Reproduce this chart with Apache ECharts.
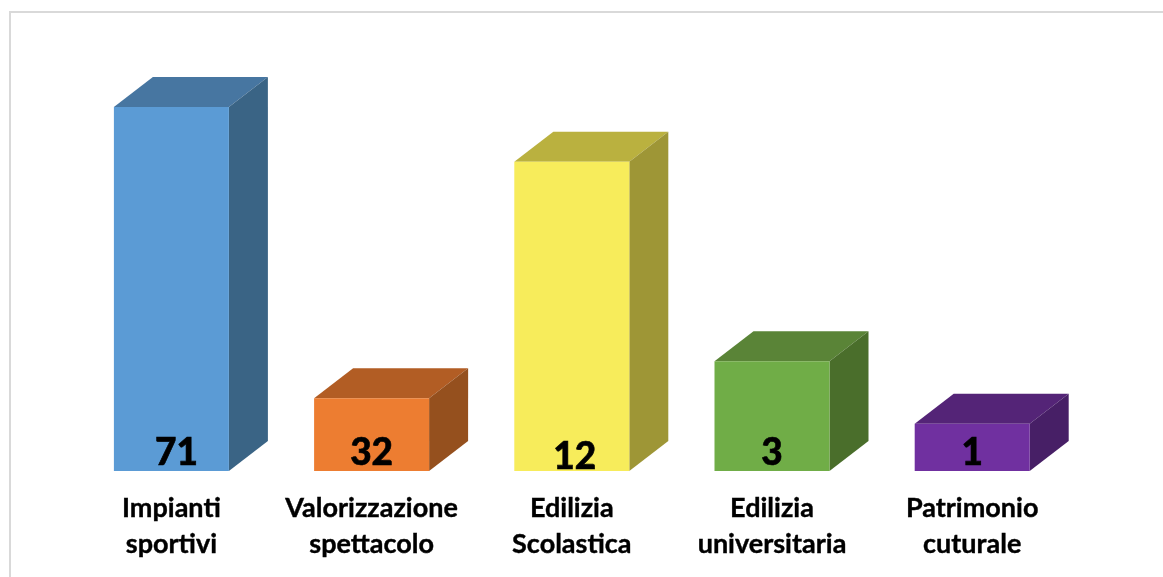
<!DOCTYPE html>
<html>
<head>
<meta charset="utf-8">
<title>Chart</title>
<script src="https://cdn.jsdelivr.net/npm/echarts@6/dist/echarts.min.js"></script>
<style>
html, body { margin: 0; padding: 0; background: #fff; }
#chart { width: 1163px; height: 577px; }
</style>
</head>
<body>
<div id="chart"></div>
<script>
var categories = ['Impianti\nsportivi', 'Valorizzazione\nspettacolo', 'Edilizia\nScolastica', 'Edilizia\nuniversitaria', 'Patrimonio\ncuturale'];
// altezze disegnate nel grafico originale, non proporzionali alle etichette
var barHeights = [71, 14.2, 60.3, 21.4, 9.2];
var valueLabels = ['71', '32', '12', '3', '1'];

var frontColors = ['#5B9BD5', '#ED7D31', '#F7EC5B', '#70AD47', '#7030A0'];
var topColors = ['#4776A1', '#B25D24', '#BAB13F', '#5A8437', '#542477'];
var sideColors = ['#3A6485', '#95501E', '#9E9636', '#4A6E2B', '#471F66'];

var myChart = echarts.init(document.getElementById('chart'));

function renderBox(params, api) {
	var i = params.dataIndex;
	var base = api.coord([api.value(0), 0]);
	var top = api.coord([api.value(0), api.value(1)]);
	var w = 115, dx = 39, dy = 30;
	var l = base[0] - w / 2, r = base[0] + w / 2;
	var labelDx = [5, 0, 3, 0, 0];
	return {
		type : 'group',
		children : [ {
			type : 'polygon',
			shape : { points : [ [l, top[1]], [l + dx, top[1] - dy], [r + dx, top[1] - dy], [r, top[1]] ] },
			style : { fill : topColors[i] }
		}, {
			type : 'polygon',
			shape : { points : [ [r, top[1]], [r + dx, top[1] - dy], [r + dx, base[1] - dy], [r, base[1]] ] },
			style : { fill : sideColors[i] }
		}, {
			type : 'rect',
			shape : { x : l, y : top[1], width : w, height : base[1] - top[1] },
			style : { fill : frontColors[i] }
		}, {
			type : 'text',
			z2 : 10,
			style : {
				x : base[0] + labelDx[i],
				y : base[1] - 18 + (i == 2 ? 4 : 0),
				text : valueLabels[i],
				fill : '#000',
				stroke : '#000',
				lineWidth : 0.6,
				font : '900 37px Lato',
				align : 'center',
				verticalAlign : 'middle'
			}
		} ]
	};
}

myChart.setOption({
	animation : false,
	backgroundColor : '#fff',
	graphic : [ {
		type : 'polyline',
		shape : { points : [ [10, 577], [10, 12], [1163, 12] ] },
		style : { stroke : '#D9D9D9', lineWidth : 2, fill : null }
	} ],
	grid : { left : 71.3, width : 1001, top : 107, height : 364 },
	xAxis : {
		type : 'category',
		data : categories,
		axisLine : { show : false },
		axisTick : { show : false },
		axisLabel : {
			margin : 19,
			color : '#000',
			fontFamily : 'Lato',
			fontWeight : 'bold',
			fontSize : 27,
			lineHeight : 36,
			textBorderColor : '#000',
			textBorderWidth : 0.4,
			interval : 0
		}
	},
	yAxis : {
		type : 'value',
		min : 0,
		max : 71,
		show : false
	},
	series : [ {
		type : 'custom',
		renderItem : renderBox,
		encode : { x : 0, y : 1 },
		clip : false,
		data : barHeights.map(function(h, i) { return [i, h]; })
	} ]
});
</script>
</body>
</html>
